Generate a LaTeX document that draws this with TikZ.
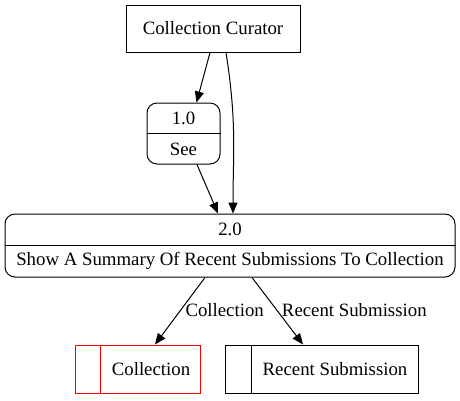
\documentclass[tikz,border=0pt]{standalone}
\usepackage{fontspec}
\setmainfont{Liberation Serif}
\usetikzlibrary{arrows.meta,calc}
\begin{document}
\begin{tikzpicture}[x=1pt,y=-1pt,
  every node/.style={font=\fontsize{18.8}{22}\selectfont, inner sep=0pt},
  proc/.style={draw, line width=1pt, rounded corners=10pt},
  lbl/.style={anchor=center},
  flow/.style={line width=1pt, -{Triangle[length=11pt,width=9pt]}}]
\useasboundingbox (0,0) rectangle (460,400);
% external entity
\node[draw, line width=1pt, minimum width=174pt, minimum height=47pt] (cc) at (213,28.5) {Collection Curator};
% process 1.0
\node[proc, minimum width=73pt, minimum height=61pt] (p1) at (183.5,133.5) {};
\draw[line width=1pt] (p1.west) -- (p1.east);
\node[lbl] (p1a) at (183.5,118) {1.0};
\node[lbl] (p1b) at (183.5,149) {See};
% process 2.0
\node[proc, minimum width=450pt, minimum height=63pt] (p2) at (230,245.5) {};
\draw[line width=1pt] (p2.west) -- (p2.east);
\node[lbl] (p2a) at (230,229.5) {2.0};
\node[lbl] (p2b) at (230,261) {Show A Summary Of Recent Submissions To Collection};
% data stores
\node[draw=red, line width=1pt, minimum width=125pt, minimum height=48pt] (s1) at (137.5,369) {};
\draw[red, line width=1pt] ([xshift=26pt]s1.north west) -- ([xshift=26pt]s1.south west);
\node[lbl] (s1t) at (151,369) {Collection};
\node[draw, line width=1pt, minimum width=193pt, minimum height=48pt] (s2) at (321.5,369) {};
\draw[line width=1pt] ([xshift=27pt]s2.north west) -- ([xshift=27pt]s2.south west);
\node[lbl] (s2t) at (335,369) {Recent Submission};
% flows
\draw[flow] ([xshift=-3pt]cc.south) -- ([xshift=13pt]p1.north);
\draw[flow] ([xshift=13pt]cc.south) .. controls ([xshift=24pt,yshift=-70pt]cc.south) and ([xshift=3pt,yshift=60pt]p2.north) .. ([xshift=3pt]p2.north);
\draw[flow] ([xshift=13.5pt]p1.south) -- ([xshift=-12pt]p2.north);
\draw[flow] ([xshift=-25pt]p2.south) -- ([xshift=17.5pt]s1.north) node[pos=0.48, right=4pt] (l1) {Collection};
\draw[flow] ([xshift=22pt]p2.south) -- ([xshift=-18.5pt]s2.north) node[pos=0.48, right=5pt] (l2) {Recent Submission};
\end{tikzpicture}
\end{document}
